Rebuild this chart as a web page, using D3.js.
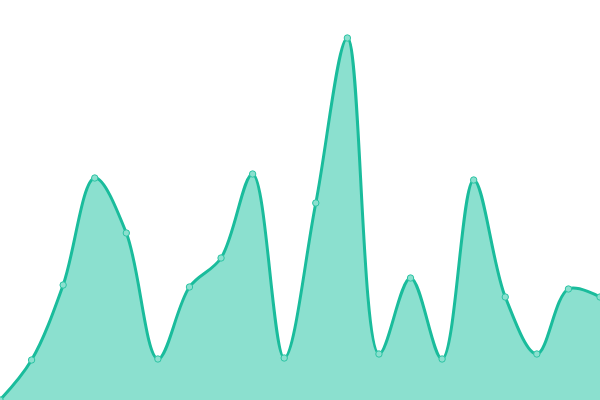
<!DOCTYPE html>
<html><head><meta charset="utf-8">
<script src="https://cdn.jsdelivr.net/npm/d3@7"></script>
<style>html,body{margin:0;padding:0;background:#fff;}svg{display:block;}</style>
</head><body>
<svg id="chart" width="600" height="400"></svg>
<script>
const categories = d3.range(20).map(i => "P" + (i + 1));
const values = [0, 10, 28.75, 55.5, 41.75, 10.25, 28.25, 35.5, 56.5, 10.5, 49.25, 90.5, 11.5, 30.5, 10.25, 55, 25.75, 11.5, 27.75, 25.75];

const W = 600, H = 400;
const svg = d3.select("#chart");
const x = d3.scalePoint().domain(categories).range([0, W]);
const y = d3.scaleLinear().domain([0, 100]).range([H, 0]);
const data = categories.map((c, i) => ({c, v: values[i]}));
const curve = d3.curveCatmullRom;

svg.append("path").datum(data)
  .attr("fill", "#8be0cf")
  .attr("d", d3.area().x(d => x(d.c)).y0(y(0)).y1(d => y(d.v)).curve(curve));
svg.append("path").datum(data)
  .attr("fill", "none").attr("stroke", "#1abc9c").attr("stroke-width", 3)
  .attr("d", d3.line().x(d => x(d.c)).y(d => y(d.v)).curve(curve));
svg.selectAll("circle.pt").data(data).join("circle")
  .attr("class", "pt")
  .attr("cx", d => x(d.c)).attr("cy", d => y(d.v)).attr("r", 3.2)
  .attr("fill", "#8be0cf").attr("stroke", "#2cc4a4").attr("stroke-width", 1);
</script>
</body></html>
